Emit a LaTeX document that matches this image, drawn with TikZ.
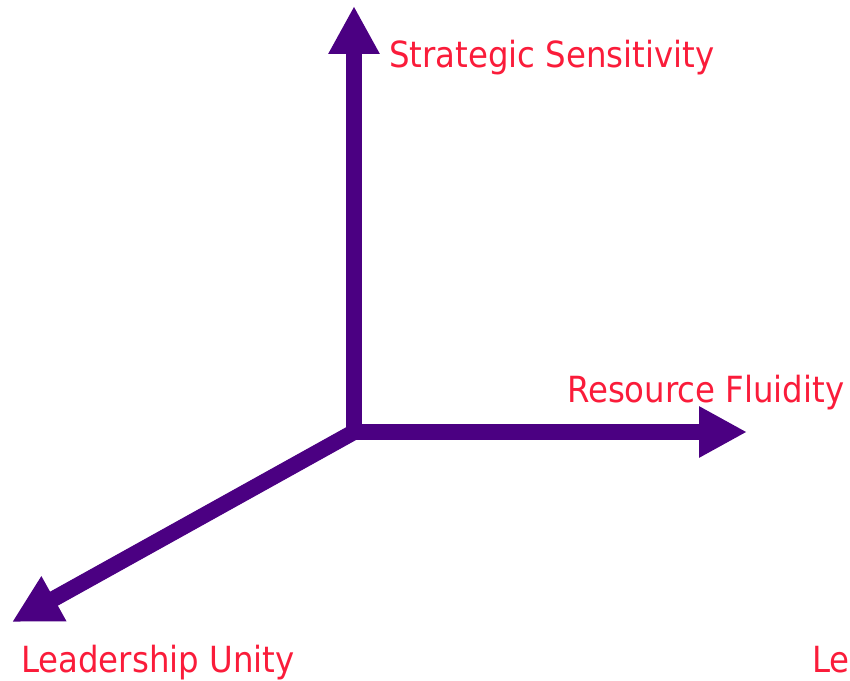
\documentclass[tikz,border=0pt]{standalone}
\usepackage{fontspec}
\setmainfont{DejaVu Sans Condensed}
\usetikzlibrary{arrows.meta}
\definecolor{axispurple}{RGB}{75,0,130}
\definecolor{labelred}{RGB}{250,28,58}
\begin{document}
\begin{tikzpicture}[x=1pt,y=1pt,
    axis/.style={line width=16pt,line cap=rect,axispurple,-{Triangle[width=48pt,length=48pt]}},
    lbl/.style={labelred,anchor=base west,inner sep=0pt,font=\fontsize{36}{40}\selectfont}]
  \useasboundingbox (0,0) rectangle (850,680);
  \coordinate (o) at (354,248);
  \coordinate (ss) at (354,674);
  \coordinate (rf) at (747,248);
  \coordinate (lu) at (12,58);
  \draw[axis] (o) -- (ss);
  \draw[axis] (o) -- (rf);
  \draw[axis] (o) -- (lu);
  \node[lbl] (sslabel) at (389,612) {Strategic Sensitivity};
  \node[lbl] (rflabel) at (567,277) {Resource Fluidity};
  \node[lbl] (lulabel) at (21,8) {Leadership Unity};
  \node[lbl] (lelabel) at (812,8) {Le};
\end{tikzpicture}
\end{document}
